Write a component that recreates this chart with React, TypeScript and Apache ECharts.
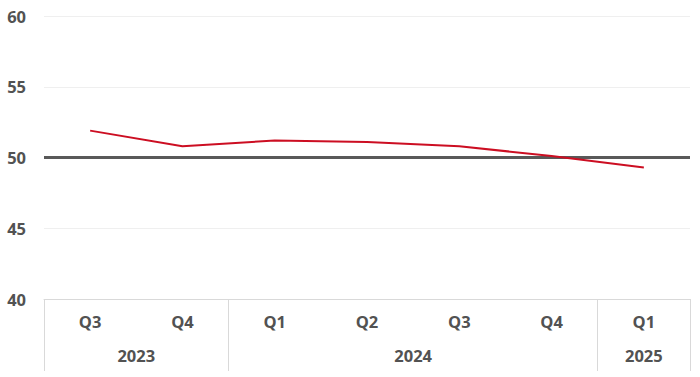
import React, { useEffect, useRef } from "react";
import * as echarts from "echarts";

const quarters = ["Q3", "Q4", "Q1", "Q2", "Q3", "Q4", "Q1"];
const values = [51.9, 50.8, 51.2, 51.1, 50.8, 50.1, 49.3];
const years = ["2023", "2024", "2025"];
const quartersPerYear = [2, 4, 1];
const yTicks = [40, 45, 50, 55, 60];
const threshold = 50;

export default function App() {
  const ref = useRef<HTMLDivElement>(null);
  useEffect(() => {
    if (!ref.current) return;
    const chart = echarts.init(ref.current, undefined, { renderer: "svg" });

    const bounds: number[] = [0];
    const centers: number[] = [];
    const labelMap: Record<string, string> = {};
    let acc = 0;
    quartersPerYear.forEach((n, i) => {
      centers.push(acc + n / 2);
      labelMap[String(acc + n / 2)] = years[i];
      acc += n;
      bounds.push(acc);
    });

    const textColor = "#525252";
    const font = "'Open Sans', sans-serif";
    const fs = 16.5;

    chart.setOption({
      animation: false,
      grid: { left: 44, right: 10, top: 16, bottom: 78 },
      xAxis: [
        {
          type: "category",
          data: quarters,
          boundaryGap: true,
          axisLine: { show: true, lineStyle: { color: "#d9d9d9", width: 1 } },
          axisTick: { show: false },
          axisLabel: {
            color: textColor,
            fontFamily: font,
            fontWeight: "bold",
            fontSize: fs,
            margin: 14,
          },
          splitLine: { show: false },
        },
        {
          type: "value",
          min: 0,
          max: quarters.length,
          position: "bottom",
          axisLine: { show: false },
          axisTick: {
            show: true,
            customValues: bounds,
            length: 72,
            lineStyle: { color: "#d9d9d9", width: 1 },
          },
          axisLabel: {
            show: true,
            customValues: centers,
            formatter: (v: number) => labelMap[String(v)] ?? "",
            color: textColor,
            fontFamily: font,
            fontWeight: "bold",
            fontSize: fs,
            margin: 48,
          },
          splitLine: { show: false },
        },
      ],
      yAxis: {
        type: "value",
        min: yTicks[0],
        max: yTicks[yTicks.length - 1],
        interval: 5,
        axisLine: { show: false },
        axisTick: { show: false },
        axisLabel: {
          color: textColor,
          fontFamily: font,
          fontWeight: "bold",
          fontSize: fs,
          margin: 18,
        },
        splitLine: { show: true, lineStyle: { color: "#efefef", width: 1 } },
      },
      series: [
        {
          type: "line",
          data: values,
          xAxisIndex: 0,
          symbol: "none",
          lineStyle: { color: "#cc0e22", width: 2 },
          z: 3,
          markLine: {
            silent: true,
            symbol: "none",
            label: { show: false },
            lineStyle: { color: "#595959", width: 3, type: "solid" },
            data: [{ yAxis: threshold }],
            z: 2,
          },
        },
      ],
    });
    return () => chart.dispose();
  }, []);
  return (
    <div
      ref={ref}
      style={{ position: "fixed", left: 0, top: 0, width: 700, height: 377, background: "#fff" }}
    />
  );
}
